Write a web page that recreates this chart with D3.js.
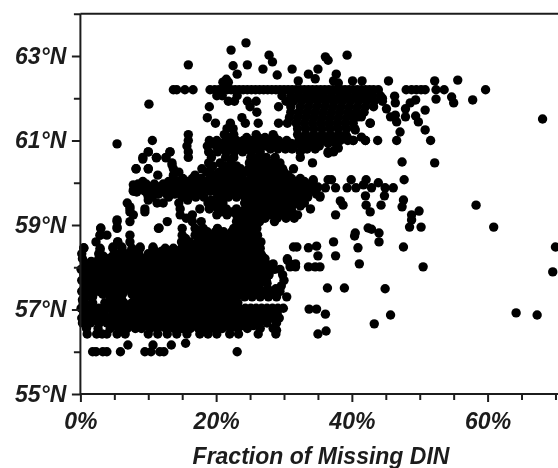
<!DOCTYPE html>
<html><head><meta charset="utf-8">
<script src="https://cdn.jsdelivr.net/npm/d3@7"></script>
<style>html,body{margin:0;padding:0;background:#fff;overflow:hidden}
svg{filter:blur(0.45px)}
text{font-family:"Liberation Sans",Arial,sans-serif;font-weight:700;font-style:italic;fill:#1c1c1c}</style>
</head><body><div id="chart"></div>
<script>
const xTickValues=[0,20,40,60];
const xMinorValues=[5,10,15,25,30,35,45,50,55,65,70];
const yTickValues=[55,57,59,61,63];
const yMinorValues=[56,58,60,62,64];
const xTitle="Fraction of Missing DIN";

// dense clouds, read row by row: latitude of each row and the missing-DIN fractions on it
const rowLatitudes=[56.42,56.55,56.68,56.80,56.92,57.03,57.16,57.30,57.43,57.56,57.69,57.82,57.95,58.08,58.20,58.32,58.45,58.60,58.76,58.92,59.08,59.24,59.38,59.52,59.66,59.80,59.90,60.03,60.18,60.33,60.47,60.60,60.73,60.87,61.00,61.14,61.28,61.41,61.54,61.67,61.80,61.93,62.06,62.20];
const rowFractions=[
[1,2.4,3.2,3.9,5.4,6.6,10,11.4,12.8,14.2,15.7,17.6,18.8,20.1,22,23.3,26.2,28.8],
[0.9,2.6,4.4,5.7,6.9,8.1,9,10.3,11.4,12.6,13.8,15,16.2,17.4,18.5,19.7,20.9,22.1,23.2,24.6,26.5,28.4],
[0.3,1.5,2.8,3.9,6,7.2,8.4,9.6,10.8,12,13.2,14.3,15.5,16.7,17.9,19.1,20.3,21.5,22.7,23.9,25.1,26.3,27.5,28.9],
[0.2,1.7,3,4.4,5.6,6.8,8,9.1,10.3,11.5,12.7,13.9,15.1,16.3,17.5,18.7,19.9,21,22.2,23.4,24.6,25.8,27,28.1,29.3],
[0.5,1.2,2.4,4.8,6.2,7.4,8.6,9.8,11,12.2,13.4,14.6,15.8,17,18.2,19.4,20.6,21.8,23,24.2,25.4,26.6,27.8,29],
[0.1,1.4,2.7,4,5.3,6.6,7.9,9,10.2,11.4,12.6,13.8,15,16.2,17.4,18.6,19.8,21,22.2,23.4,24.3,25.1,25.9,26.7,27.5,28.3,29.1,29.9],
[0.4,1.8,3.6,5.2,6.4,7.6,8.8,10,11.2,12.4,13.6,14.8,16,17.2,18.4,19.6,20.8,22,23.2],
[0.8,1.8,4.4,5.6,8,9,9.8,11,12.2,13.4,14.6,15.8,17,18.2,19.4,20.6,21.8,23,24.2,25.3,26.5,27.7,28.9,30.4],
[0.2,1.5,2.7,3.9,5.1,6.3,7.5,8.7,9.9,11.1,12.3,13.5,14.7,15.9,17.1,18.3,19.5,20.7,21.9,23.1,24.3,25.5,27,28.2,29.4],
[0.7,1.9,3.1,4.3,5.5,6.7,7.9,9.1,10.3,11.5,12.7,13.9,15.1,16.3,17.5,18.7,19.9,21.1,22.3,23.5,24.7,25.7,29.6],
[0.2,1.4,2.6,3.8,5,6.2,7.4,8.6,9.8,11,12.2,13.4,14.6,15.8,17,18.2,19.4,20.6,21.8,23,24.2,25.4,26.6,27.4,30],
[0.5,1.7,2.9,4.1,5.3,6.5,7.7,8.9,10.1,11.3,12.5,13.7,14.9,16.1,17.3,18.5,19.7,20.9,22.1,23.3,24.5,25.7,26.9,27.8,29.8],
[0.1,1.3,2.5,3.7,4.9,6.1,7.3,8.5,9.7,10.9,12.1,13.3,14.5,15.7,16.9,18.1,19.3,20.5,21.7,22.9,24.1,25.3,26.5,27.7,28.6,29.4],
[1,2.2,3.4,4.6,5.8,7,8.2,9.4,10.6,11.8,13,14.2,15.4,16.6,17.8,19,20.2,21.4,22.6,23.8,25,26.2,27.4,28.4,30.9,31.7],
[0.3,2.7,4.1,5.4,6.8,8,9.4,10.6,11.8,13,14.2,15.4,16.6,17.8,19,20.2,21.4,22.6,23.8,25,26.2,27.2,30.5],
[0.2,2.7,5.2,6.9,8.6,10,11.2,12.3,13.5,14.8,15.9,17,18.2,19.4,20.6,21.8,23,24.2,25.4,26.6],
[0.5,2.9,4.8,6.1,7.6,8.8,10.7,12.5,13.7,14.9,16.1,17.3,18.5,19.7,20.9,22.1,23.3,24.5,25.7,26.5],
[2.3,5.5,7.3,14.9,16.1,17.3,18.5,19.7,20.9,22.1,23.3,24.5,25.7,26.6],
[2.9,3.9,7.3,15,16.9,18.1,19.3,20.5,21.7,22.9,24.1,25.3,26.1],
[3,5.4,11.5,15,16.9,18.1,20.2,22.6,23.8,25,26],
[5.4,7.3,12.8,16.5,17.8,23,24,25.2,26.4,28.6],
[7.8,14.7,16.5,20.1,21.6,23,24.3,25.5,26.7,28,29.4,30.8,32],
[7.3,9.5,14.7,17.6,19,20.3,21.5,23,24.3,25.5,26.7,28,29.3,30.5,33.9],
[6.9,11.3,12.2,14.5,18.8,20,21,24.2,25.5,26.7,28,29.3,30.5,31.8,33],
[10,10.6,13,15,17,18.2,20.6,21.8,23,24.2,25.4,26.6,27.8,29,30.2,31.4,32.6,33.5,35.3],
[7.8,8.3,9.5,10.7,11.9,13.1,14.3,15.5,16.7,17.9,19.1,20.3,21.5,22.7,23.9,25.1,26.3,27.5,28.7,29.9,31.1,32.3,33.5,34.5],
[9,10.4,11.6,12.8,14,15.2,16.4,17.6,18.8,20,21.2,22.4,23.6,24.8,26,27.2,28.4,29.6,30.8,32,33.2,34.4,35],
[9.2,13,14.4,15.8,17.2,18.5,19.7,20.9,22.1,23.3,24.5,25.7,26.9,28.1,29.3,30.5,31.7,33,34.3],
[11.4,13.7,16.9,19.5,21.3,22.5,23.7,25.8,27,28.2,29.4,30.6],
[8.2,10,13.7,17.9,19.2,21,22.4,23.6,24.8,26,27.2,28.4,29.8,31.4],
[13.5,18.9,20.6,22.2,24.9,25.8,27,28.2,29.4,34.2],
[9.2,11.2,12.6,15.9,19.3,21.4,22.6,25.1,26.1,27.4,28.7,32.4],
[10,13.2,15.9,18.9,20.2,21.5,22.7,23.9,25.2,26.5,32.4,36.5,37.3],
[15.7,18.7,20,21.4,22.6,23.8,25,26.2,27.3,28.4,29.5,30.6,31.5,32.8,34,35.2],
[10.6,15.9,19,20.1,21.4,23,24,25.2,26.8,27.8,29.2,30.4,32.2,33.4,34.6,35.8,37,38.3,39.4,40.2,42,43.8,46.6,51.6],
[15.9,21.2,22.6,25.9,28.4,32,33.2,34.4,35.6,36.8,38,39.1],
[21.6,22.5,32,33.2,34.4,35.6,36.8,38,39.2,40.4],
[19.9,22.1,24.3,26.2,29.2,30.5,31.8,33,34.2,35.4,36.6,37.8,39,40.2,42.7],
[18.7,23.8,30.8,32,33.2,34.4,35.6,36.8,38,39.2,40.3],
[26,31,32.2,33.4,34.6,35.8,37,38.2,39.4,40.6,41.8],
[19,25,29.2,31,32.4,33.6,34.8,36,37.2,38.4,39.6,40.8,42,43.2],
[21.8,22.7,24.6,25.9,30.3,31.4,32.6,33.8,35,36.2,37.4,38.6,39.8,41,42.2,43.3,44.5],
[20.1,20.9,23.1,29.7,31,32.2,33.4,34.6,35.8,37,38.2,39.4,40.6,41.8,43,44.2],
[13.7,14.2,15.4,16.6,19.1,19.8,20.4,21,21.6,22.2,22.8,23.4,24,24.6,25.2,25.8,26.4,27,27.6,28.2,28.8,29.4,30,30.6,31.2,31.8,32.4,33,33.6,34.2,34.8,35.4,36,36.6,37.2,37.8,38.4,39,39.6,40.2,40.8,41.4,42,42.6,43.2,43.9,48,48.8,49.5,50.2,50.8,52.4,53.6,59.7]
];

// further stations lying between those rows
const midLatitudes=[56.62,56.74,56.86,56.98,57.10,57.23,57.36,57.49,57.62,57.75,57.88,58.02,58.14,58.26,58.38,58.52,58.68,58.84,59.00,59.16,59.31,59.45,59.59,59.73,59.85,59.97,60.10,60.25,60.40,60.80,60.93,61.07];
const midFractions=[
[5.1,6.3,7.5,8.7,9.7,10.9,12,13.2,14.4,15.6,16.8,18,19.1,20.3,21.5,22.7,23.9,25.5],
[0.9,2.3,3.7,5,6.2,7.4,8.6,9.7,10.9,12.1,13.3,14.5,15.7,16.9,18.1,19.3,20.5,21.6,22.8,24,25.2,26.4,27.5],
[1,3.6,5.4,6.8,8,9.2,10.4,11.6,12.8,14,15.2,16.4,17.6,18.8,20,21.2,22.4,23.6,24.8,26,27.2,28.4],
[0.7,2,3.4,4.7,6,7.2,8.4,9.6,10.8,12,13.2,14.4,15.6,16.8,18,19.2,20.4,21.6,22.8],
[1.1,4.4,5.8,7,8.2,9.4,10.6,11.8,13,14.2,15.4,16.6,17.8,19,20.2,21.4,22.6],
[0.3,4.9,6.1,8.4,9.4,10.4,11.6,12.8,14,15.2,16.4,17.6,18.8,20,21.2,22.4],
[1.2,3.3,5,6.2,7.6,8.7,10.4,11.6,12.8,14,15.2,16.4,17.6,18.8,20,21.2,22.4,23.6,24.8,25.9,27.1,28.3],
[0.5,2.1,3.3,4.5,5.7,6.9,8.1,9.3,10.5,11.7,12.9,14.1,15.3,16.5,17.7,18.9,20.1,21.3,22.5,23.7,24.9,26.3,27.6,28.8],
[1.3,2.5,3.7,4.9,6.1,7.3,8.5,9.7,10.9,12.1,13.3,14.5,15.7,16.9,18.1,19.3,20.5,21.7,22.9,24.1,25.3,26.5,27.5],
[0.8,2,3.2,4.4,5.6,6.8,8,9.2,10.4,11.6,12.8,14,15.2,16.4,17.6,18.8,20,21.2,22.4,23.6,24.8,26,27],
[1.1,2.3,3.5,4.7,5.9,7.1,8.3,9.5,10.7,11.9,13.1,14.3,15.5,16.7,17.9,19.1,20.3,21.5,22.7,23.9,25.1,26.3,27.5],
[0.6,1.6,2.8,4,5.2,6.4,7.6,8.8,10,11.2,12.4,13.6,14.8,16,17.2,18.4,19.6,20.8,22,23.2,24.4,25.6,26.8,28],
[1.6,2.8,4,5.2,6.4,7.6,8.8,10,11.2,12.4,13.6,14.8,16,17.2,18.4,19.6,20.8,22,23.2,24.4,25.6,26.8],
[3.4,4.7,6,7.4,8.7,9.9,11.2,12.4,13.6,14.8,16,17.2,18.4,19.6,20.8,22,23.2,24.4,25.6,26.8],
[8.2,11,12,13.1,14.3,15.5,16.7,17.9,19.1,20.3,21.5,22.7,23.9,25.1,26.3],
[15.5,16.7,17.9,19.1,20.3,21.5,22.7,23.9,25.1,26.1],
[15.5,17.5,18.7,19.9,21.1,22.3,23.5,24.7,25.9],
[17.5,18.7,19.9,21.1,22.3,23.5,24.7,25.7],
[23.4,24.6,25.6],
[15.6,23.6,24.7,25.9,27.2,29,30.3,31.5],
[20.7,22.3,23.6,24.9,26.1,27.4,28.6,29.9,31.2],
[19.6,20.8,24.8,26.1,27.4,28.6,29.9,31.2,32.4],
[15.8,19.3,20.5,24.6,25.9,27.1,28.4,29.7,31,32.2],
[9.9,11.5,12.7,13.9,15.1,16.3,17.5,20.2,21.4,22.6,23.8,25,26.2,27.4,28.6,29.8,31,32.2,33.4,34.8],
[8.9,10.1,11.3,12.5,13.7,14.9,16.1,17.3,18.5,19.7,20.9,22.1,23.3,24.5,25.7,26.9,28.1,29.3,30.5,31.7,32.9],
[8.5,9.7,10.9,12.2,13.4,14.6,15.8,17,18.2,19.4,20.6,21.8,23,24.2,25.4,26.6,27.8,29,30.2,31.4,32.6,33.8],
[13.7,15.1,16.5,17.8,19.1,20.3,21.5,22.7,23.9,25.1,26.3,27.5,28.7,29.9,31.1,32.4],
[14.5,18.6,20.4,21.9,23.1,24.3,25.4,26.4,27.6,28.8,30],
[19.5,21.2,23,25.4,26.5,27.6,28.8],
[21,22.2,23.3,24.5,25.7,28,29.1,30.2,31.2,33.4,34.6],
[19.3,20.7,22,24.4,25.6,26.8,28,29,30,31.1,32.2,33.5,34.8,36.5,37.6],
[22,24.5,26.2,27.2,28.6,32.7,33.9,35.1,36.3,37.5,38.7]
];

// scattered single stations: fraction and latitude, listed in matching order
const scatterFraction=[24.4,22.2,27.8,28.3,15.9,24.6,22.5,26.9,23.1,29,
21.5,21,21.8,39.3,36.1,36.5,31.2,35,33.6,37.7,
32.1,34.6,37.3,38,40.1,41.5,45.4,52.2,55.6,68.1,
57.8,55,54.7,52.4,44.5,46.3,46.4,45.1,49.4,48.6,
47.9,50.8,45.7,46.4,47.9,49.4,46.6,49.8,50.8,47.1,
40.5,40.9,41.4,47.4,52.2,47.7,58.3,60.9,38,37.3,
36.5,34.3,37,36.5,39.9,39.3,40.6,42.1,42.9,43.9,
44.9,46.1,41.7,36.1,37.6,42,44.8,47.6,47.4,38.3,
38.7,42.1,42.7,44.3,37.6,49.9,48.8,48.8,48.5,50.2,
42.4,42.9,35.3,40.5,44,44,40.4,64.2,67.3,69.6,
70,50.5,47.6,44.9,45.7,43.3,36.2,35,36.1,34.8,
33.7,38.9,36.4,41.1,37.6,35,40.9,37.3,34.8,33.6,
31.9,31.4,35.3,34.6,33.6,31.7,30.9,30.5,28.9,10.1,
5.4,10,9.2,11.2,12.6,13.2,10,8.2,13.5,7.8,
7.8,8.3,10,7.3,7.3,9.5,5.4,5.4,3,11.6,
4.8,5.5,6.1,7.6,8.8,10.7,2.9,0.5,2.9,1.8,
2.3,3.3,3.9,5.9,9.5,10.4,11.7,12.3,23.1,7,
10.7,13.4,15.5,42.7,42,41.4,40.2,39.3];
const scatterLatitude=[63.31,63.14,63.02,62.86,62.79,62.79,62.77,62.69,62.57,62.55,
62.45,62.38,62.38,63.02,62.98,62.9,62.69,62.69,62.57,62.57,
62.41,62.46,62.41,62.36,62.41,62.41,62.41,62.41,62.43,61.51,
61.96,61.89,62.03,61.98,62,62.05,61.89,61.75,61.96,61.89,
61.75,61.72,61.56,61.6,61.56,61.58,61.44,61.44,61.25,61.2,
61.25,61.56,61.56,60.49,60.47,60.07,59.47,58.95,60.82,60.75,
60.7,60.07,60.07,60.07,60.07,59.88,59.88,60.07,59.88,60,
59.88,59.88,59.95,59.88,59.88,59.69,59.69,59.59,59.43,59.57,
59.47,59.47,59.31,59.47,59.24,59.33,59.24,59.12,58.95,58.95,
58.93,58.9,59.69,58.81,58.81,58.6,58.74,56.92,56.87,57.89,
58.48,58.01,58.48,57.49,56.87,56.66,56.49,56.42,56.89,57.01,
57.01,57.51,57.51,58.08,58.27,58.27,58.46,58.6,58.5,58.46,
58.48,58.48,58.01,58.01,58.01,58.01,58.01,58.17,56.51,61.86,
60.92,60.73,60.56,60.59,60.59,60.73,60.33,60.33,60.42,59.95,
59.83,59.78,59.59,59.43,59.31,59.31,59.12,58.95,58.93,58.93,
58.48,58.6,58.48,58.41,58.48,58.48,58.41,58.46,58.76,56,
56,56,56,56,56,56,56,56,56,56.16,
56.16,56.16,56.2,61.41,61,61.08,61,61.08];

const W=558,H=468;
const x=d3.scaleLinear().domain([0,70.3]).range([80.4,557.5]);
const y=d3.scaleLinear().domain([55,64]).range([394,13.75]);
const points=[];
rowLatitudes.forEach((lat,i)=>rowFractions[i].forEach(f=>points.push([f,lat])));
midLatitudes.forEach((lat,i)=>midFractions[i].forEach(f=>points.push([f,lat])));
scatterFraction.forEach((f,i)=>points.push([f,scatterLatitude[i]]));

const svg=d3.select("#chart").append("svg").attr("width",W).attr("height",H).style("display","block");
svg.append("g").selectAll("circle").data(points).join("circle")
  .attr("cx",d=>x(d[0])).attr("cy",d=>y(d[1])).attr("r",4.7).attr("fill","#000");

const ink="#1c1c1c";
function styleAxis(g){g.selectAll("path,line").attr("stroke",ink).attr("stroke-width",2);g.select(".domain").remove();}
const gy=svg.append("g").attr("transform","translate(80.4,0)");
gy.append("g").call(d3.axisLeft(y).tickValues(yMinorValues).tickSize(6.5).tickFormat("")).call(styleAxis);
gy.append("g").call(d3.axisLeft(y).tickValues(yTickValues).tickSize(8.5).tickFormat(d=>d+"°N").tickPadding(5.5)).call(styleAxis)
  .selectAll("text").style("font-size","23px").style("font-family",null);
const gx=svg.append("g").attr("transform","translate(0,394)");
gx.append("g").call(d3.axisBottom(x).tickValues(xMinorValues).tickSize(6).tickFormat("")).call(styleAxis);
gx.append("g").call(d3.axisBottom(x).tickValues(xTickValues).tickSize(8).tickFormat(d=>d+"%").tickPadding(11)).call(styleAxis)
  .selectAll("text").style("font-size","23px").style("font-family",null);
svg.selectAll(".tick text").attr("fill",null);
svg.append("line").attr("x1",x(0)).attr("x2",W).attr("y1",y(55)).attr("y2",y(55)).attr("stroke",ink).attr("stroke-width",2);
svg.append("line").attr("x1",x(0)).attr("x2",W).attr("y1",y(64)).attr("y2",y(64)).attr("stroke",ink).attr("stroke-width",2);
svg.append("line").attr("x1",x(0)).attr("x2",x(0)).attr("y1",y(64)).attr("y2",y(55)).attr("stroke",ink).attr("stroke-width",2);
svg.append("text").attr("x",321).attr("y",464).attr("text-anchor","middle").style("font-size","23px").text(xTitle);
</script></body></html>
